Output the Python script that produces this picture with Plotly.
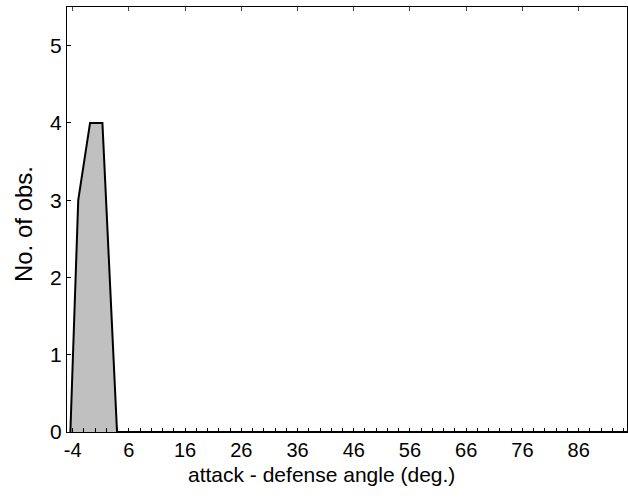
import plotly.graph_objects as go

# Frequency polygon data
angle_x = [-4.4, -3.0, -0.9, 1.3, 3.9, 94.6]
obs_y = [0, 3, 4, 4, 0, 0]

x_tick_vals = [-4, 6, 16, 26, 36, 46, 56, 66, 76, 86]
x_tick_text = ["-4", "6", "16", "26", "36", "46", "56", "66", "76", "86"]
y_tick_vals = [0, 1, 2, 3, 4, 5]

x_title = "attack - defense angle (deg.)"
y_title = "No. of obs."

FONT = "Liberation Sans, Arial, sans-serif"

X_RANGE = [-5, 94.6]
Y_RANGE = [0, 5.5]

fig = go.Figure()
fig.add_trace(go.Scatter(
    x=angle_x, y=obs_y, mode="lines",
    fill="tozeroy", fillcolor="#c0c0c0",
    line=dict(color="black", width=2),
    hoverinfo="skip", showlegend=False,
))
fig.add_trace(go.Scatter(x=[X_RANGE[0]], y=[0], xaxis="x2", mode="markers",
                         marker=dict(opacity=0), hoverinfo="skip", showlegend=False))

fig.update_layout(
    width=628, height=499,
    margin=dict(l=67, r=1, t=7, b=67),
    paper_bgcolor="white", plot_bgcolor="white",
    font=dict(family=FONT, color="black", size=20),
    xaxis=dict(
        range=X_RANGE, showgrid=False, zeroline=False,
        showline=True, linecolor="black", linewidth=1, mirror=True,
        tickmode="array", tickvals=x_tick_vals, ticktext=x_tick_text,
        ticks="inside", ticklen=4, tickcolor="black", tickwidth=1,
        minor=dict(dtick=2, tick0=-4, ticks="inside", ticklen=4, tickcolor="black"),
        tickfont=dict(size=20, family=FONT),
    ),
    xaxis2=dict(
        range=X_RANGE, overlaying="x", side="top", anchor="y", showgrid=False, zeroline=False,
        showline=False, tickmode="array", tickvals=x_tick_vals, showticklabels=False,
        ticks="inside", ticklen=4, tickcolor="#444", tickwidth=1,
    ),
    yaxis=dict(
        range=Y_RANGE, showgrid=False, zeroline=False,
        showline=True, linecolor="black", linewidth=1, mirror=True,
        tickmode="array", tickvals=y_tick_vals,
        ticks="inside", ticklen=4, tickcolor="black", tickwidth=1,
        tickfont=dict(size=21, family=FONT),
    ),
    annotations=[
        dict(text=x_title, xref="paper", yref="paper", x=0.455, y=-0.101,
             showarrow=False, font=dict(size=21, family=FONT),
             xanchor="center", yanchor="middle"),
        dict(text=y_title, xref="paper", yref="paper", x=-0.078, y=0.49,
             showarrow=False, font=dict(size=24, family=FONT), textangle=-90,
             xanchor="center", yanchor="middle"),
    ],
)

fig.write_html("out.html", config={"displayModeBar": False},
               post_script="document.body.style.margin='0';document.body.style.overflow='hidden';")
